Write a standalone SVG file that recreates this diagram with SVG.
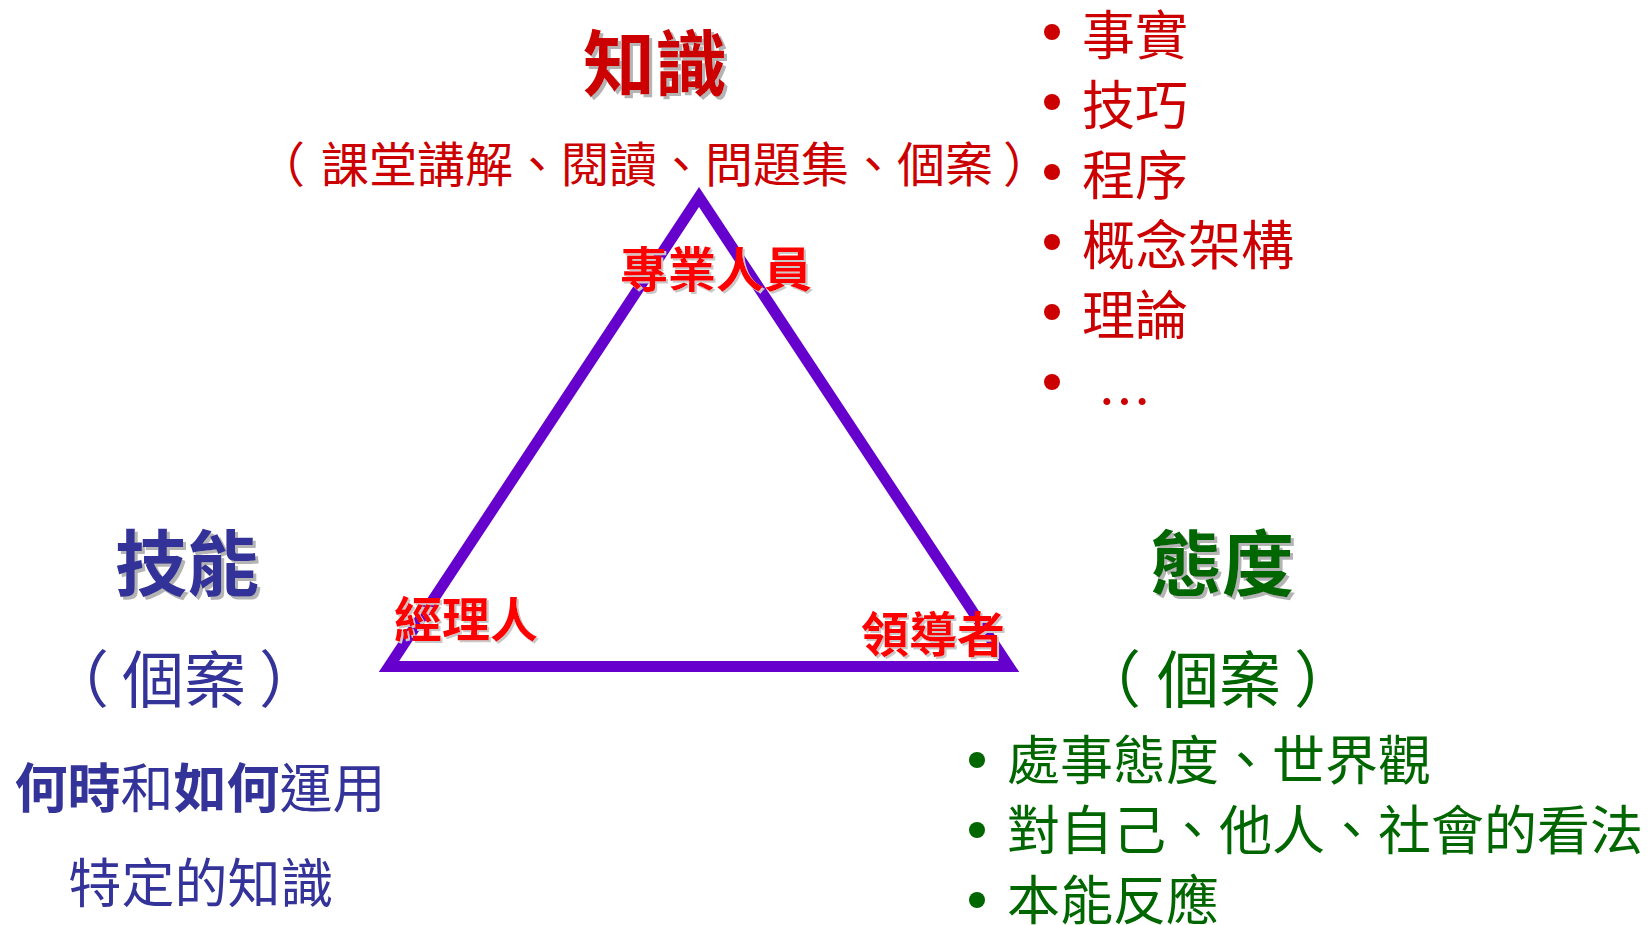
<svg xmlns="http://www.w3.org/2000/svg" width="1650" height="925" viewBox="0 0 1650 925">
<defs>
<filter id="shadow" x="-10%" y="-10%" width="130%" height="130%">
<feFlood flood-color="#b4b4b4" result="c"/>
<feComposite in="c" in2="SourceAlpha" operator="in" result="s"/>
<feOffset in="s" dx="3" dy="3" result="o"/>
<feMerge><feMergeNode in="o"/><feMergeNode in="SourceGraphic"/></feMerge>
</filter>
<filter id="shadow2" x="-10%" y="-10%" width="130%" height="130%">
<feFlood flood-color="#c8c8c8" result="c"/>
<feComposite in="c" in2="SourceAlpha" operator="in" result="s"/>
<feOffset in="s" dx="2" dy="2" result="o"/>
<feMerge><feMergeNode in="o"/><feMergeNode in="SourceGraphic"/></feMerge>
</filter>
</defs>
<style>
text{font-family:"Noto Sans CJK TC","Noto Sans CJK SC",sans-serif;}
.title{font-size:72px;font-weight:700;text-anchor:middle;filter:url(#shadow);}
.role{font-size:48px;font-weight:700;fill:#ff0000;filter:url(#shadow2);}
.red{fill:#cc0000;}
.blue{fill:#333399;}
.green{fill:#006600;}
.li{font-size:53px;}
.b{font-weight:700;}
</style>
<rect width="1650" height="925" fill="#ffffff"/>
<g id="connectors">
<polygon points="699,197 389,666.5 1009,666.5" fill="none" stroke="#6600cc" stroke-width="11" stroke-linejoin="miter" stroke-miterlimit="10"/>
</g>
<g id="knowledge">
<text class="title red" x="655" y="90">知識</text>
<text class="red" font-size="48"><tspan x="257" y="182">（</tspan><tspan x="321" y="182">課堂講解、閱讀、問題集、個案</tspan><tspan x="1003" y="182">）</tspan></text>
<g class="red">
<circle cx="1052" cy="32" r="8" fill="#cc0000"/><text class="li" x="1082" y="55">事實</text>
<circle cx="1052" cy="102" r="8" fill="#cc0000"/><text class="li" x="1082" y="125">技巧</text>
<circle cx="1052" cy="172" r="8" fill="#cc0000"/><text class="li" x="1082" y="195">程序</text>
<circle cx="1052" cy="242" r="8" fill="#cc0000"/><text class="li" x="1082" y="265">概念架構</text>
<circle cx="1052" cy="312" r="8" fill="#cc0000"/><text class="li" x="1082" y="335">理論</text>
<circle cx="1052" cy="382" r="8" fill="#cc0000"/><text class="li" x="1098" y="422">…</text>
</g>
</g>
<g id="professional">
<text class="role" x="620" y="287">專業人員</text>
</g>
<g id="manager">
<text class="role" x="394" y="637">經理人</text>
</g>
<g id="leader">
<text class="role" x="861" y="652">領導者</text>
</g>
<g id="skills">
<text class="title blue" x="187" y="590">技能</text>
<text class="blue" font-size="62"><tspan x="47" y="703">（</tspan><tspan x="122" y="703">個案</tspan><tspan x="259" y="703">）</tspan></text>
<text class="blue li" x="200" y="808" text-anchor="middle"><tspan class="b">何時</tspan>和<tspan class="b">如何</tspan>運用</text>
<text class="blue li" x="201" y="903" text-anchor="middle">特定的知識</text>
</g>
<g id="attitude">
<text class="title green" x="1222" y="590">態度</text>
<text class="green" font-size="62"><tspan x="1079" y="703">（</tspan><tspan x="1157" y="703">個案</tspan><tspan x="1294" y="703">）</tspan></text>
<circle cx="977" cy="760" r="8" fill="#006600"/><text class="green li" x="1007" y="780">處事態度、世界觀</text>
<circle cx="977" cy="830" r="8" fill="#006600"/><text class="green li" x="1007" y="850">對自己、他人、社會的看法</text>
<circle cx="977" cy="900" r="8" fill="#006600"/><text class="green li" x="1007" y="920">本能反應</text>
</g>
</svg>
